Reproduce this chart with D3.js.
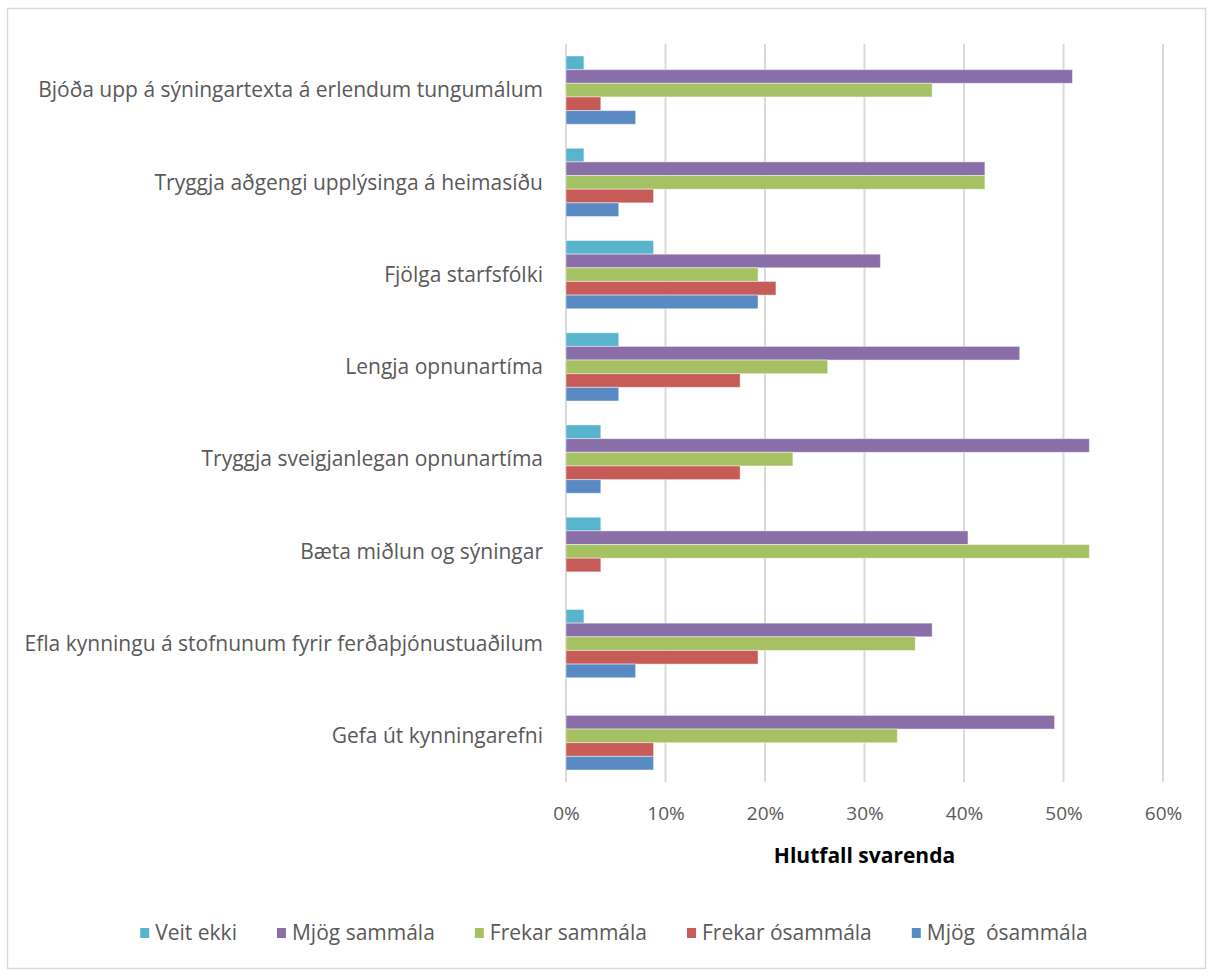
<!DOCTYPE html>
<html>
<head>
<meta charset="utf-8">
<script src="https://cdn.jsdelivr.net/npm/d3@7"></script>
<style>
  body { margin: 0; background: #fff; }
  svg text { font-family: "Open Sans", sans-serif; }
</style>
</head>
<body>
<script>
// categories, top to bottom
const categories = [
  "Bjóða upp á sýningartexta á erlendum tungumálum",
  "Tryggja aðgengi upplýsinga á heimasíðu",
  "Fjölga starfsfólki",
  "Lengja opnunartíma",
  "Tryggja sveigjanlegan opnunartíma",
  "Bæta miðlun og sýningar",
  "Efla kynningu á stofnunum fyrir ferðaþjónustuaðilum",
  "Gefa út kynningarefni"
];

// series names (legend order = bar order inside each group, top to bottom)
const seriesNames = ["Veit ekki", "Mjög sammála", "Frekar sammála", "Frekar ósammála", "Mjög  ósammála"];
const seriesColors = ["#58b4cd", "#8a6ea8", "#a5c163", "#c75b57", "#5a8ac4"];

// values in % of respondents
const veitEkki       = [1.8, 1.8, 8.8, 5.3, 3.5, 3.5, 1.8, 0];
const mjogSammala    = [50.9, 42.1, 31.6, 45.6, 52.6, 40.4, 36.8, 49.1];
const frekarSammala  = [36.8, 42.1, 19.3, 26.3, 22.8, 52.6, 35.1, 33.3];
const frekarOsammala = [3.5, 8.8, 21.1, 17.5, 17.5, 3.5, 19.3, 8.8];
const mjogOsammala   = [7.0, 5.3, 19.3, 5.3, 3.5, 0, 7.0, 8.8];

const xTicks = [0, 0.1, 0.2, 0.3, 0.4, 0.5, 0.6];
const xTitle = "Hlutfall svarenda";

const seriesValues = [veitEkki, mjogSammala, frekarSammala, frekarOsammala, mjogOsammala];

const width = 1213, height = 976;
const svg = d3.select("body").append("svg")
    .attr("width", width)
    .attr("height", height);

// outer chart border
svg.append("rect")
    .attr("x", 7.5).attr("y", 8.5)
    .attr("width", 1198).attr("height", 960)
    .attr("fill", "#fff")
    .attr("stroke", "#d9d9d9")
    .attr("stroke-width", 1.5);

const plot = {left: 566, right: 1163, top: 44, bottom: 782};

const xScale = d3.scaleLinear()
    .domain([0, 0.6])
    .range([plot.left, plot.right]);

const yScale = d3.scaleBand()
    .domain(categories)
    .range([plot.top, plot.bottom])
    .paddingInner(0.26)
    .paddingOuter(0.13);

const ySub = d3.scaleBand()
    .domain(seriesNames)
    .range([0, yScale.bandwidth()]);

// gridlines
svg.append("g")
  .selectAll("line")
  .data(xTicks)
  .enter()
  .append("line")
    .attr("x1", d => xScale(d))
    .attr("x2", d => xScale(d))
    .attr("y1", plot.top)
    .attr("y2", plot.bottom)
    .attr("stroke", "#d9d9d9")
    .attr("stroke-width", 2);

// bars
const rows = [];
categories.forEach((c, i) => {
  seriesNames.forEach((s, j) => {
    rows.push({cat: c, series: s, value: seriesValues[j][i] / 100, color: seriesColors[j]});
  });
});

svg.append("g")
  .selectAll("rect")
  .data(rows.filter(d => d.value > 0))
  .enter()
  .append("rect")
    .attr("x", xScale(0))
    .attr("y", d => yScale(d.cat) + ySub(d.series))
    .attr("width", d => xScale(d.value) - xScale(0))
    .attr("height", ySub.bandwidth())
    .attr("fill", d => d.color)
    .attr("stroke", "#fff")
    .attr("stroke-opacity", 0.45)
    .attr("stroke-width", 1);

// category labels
svg.append("g")
  .selectAll("text")
  .data(categories)
  .enter()
  .append("text")
    .attr("x", 543)
    .attr("y", d => yScale(d) + yScale.bandwidth() / 2)
    .attr("dy", "0.35em")
    .attr("text-anchor", "end")
    .attr("font-size", 21)
    .attr("fill", "#595959")
    .text(d => d);

// x axis labels
const xAxis = svg.append("g")
    .attr("transform", `translate(0,${plot.bottom})`)
    .call(d3.axisBottom(xScale).tickValues(xTicks).tickFormat(d3.format(".0%")).tickSize(0).tickPadding(25));
xAxis.select(".domain").remove();
xAxis.selectAll("text")
    .attr("font-family", "Open Sans, sans-serif")
    .attr("font-size", 19)
    .attr("fill", "#595959");

svg.append("text")
    .attr("x", (plot.left + plot.right) / 2)
    .attr("y", 863)
    .attr("text-anchor", "middle")
    .attr("font-size", 21)
    .attr("font-weight", "bold")
    .attr("fill", "#000")
    .text(xTitle);

// legend
const legend = svg.append("g");
const items = legend.selectAll("g")
    .data(seriesNames)
    .enter()
    .append("g");

items.append("rect")
    .attr("y", -5)
    .attr("width", 9)
    .attr("height", 10)
    .attr("fill", (d, i) => seriesColors[i]);

items.append("text")
    .attr("x", 15)
    .attr("dy", "0.35em")
    .attr("font-size", 21)
    .attr("fill", "#595959")
    .style("white-space", "pre")
    .text(d => d);

let pos = 0;
const offsets = [];
items.each(function() {
  offsets.push(pos);
  pos += this.getBBox().width + 40;
});
const total = pos - 40;
const start = 614 - total / 2;
items.attr("transform", (d, i) => `translate(${start + offsets[i]},933)`);
</script>
</body>
</html>
